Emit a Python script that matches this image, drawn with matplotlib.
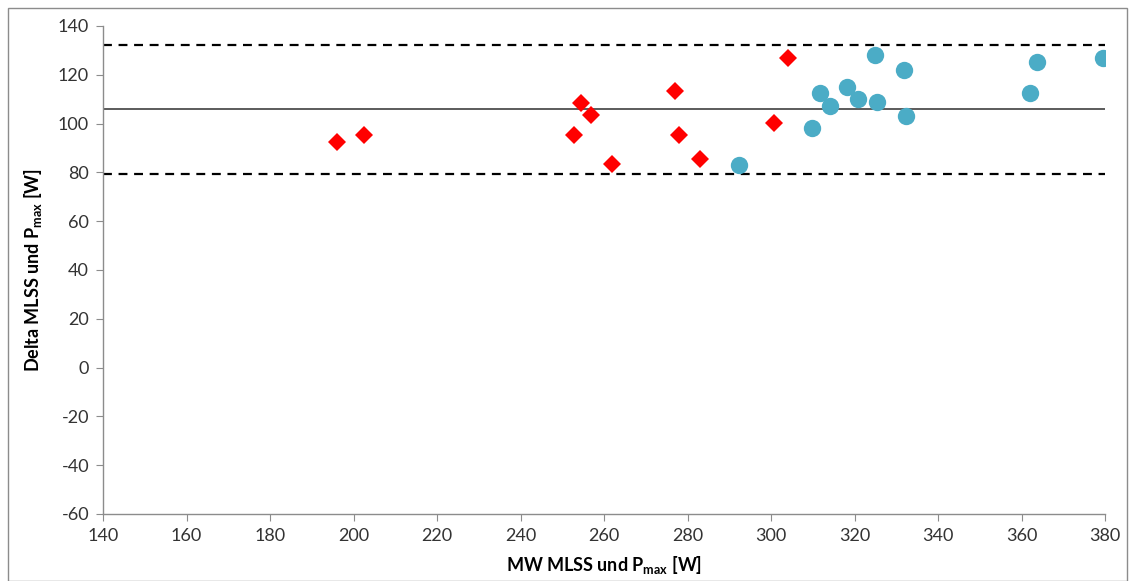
import matplotlib.pyplot as plt
from matplotlib.patches import Rectangle

# Group 1 (red diamonds)
red_x = [196.0, 202.5, 252.8, 254.5, 256.9, 261.9, 277.0, 278.0, 283.0, 300.7, 304.1]
red_y = [92.5, 95.3, 95.3, 108.4, 103.5, 83.4, 113.4, 95.3, 85.5, 100.2, 126.9]

# Group 2 (blue circles)
blue_x = [292.3, 309.8, 311.7, 314.1, 318.2, 320.8, 324.9, 325.4, 331.9, 332.3, 362.0, 363.7, 379.6]
blue_y = [83.0, 98.2, 112.5, 107.2, 115.0, 110.1, 128.1, 108.9, 122.0, 103.1, 112.5, 125.2, 126.9]

# Mean difference and limits of agreement
mean_diff = 105.9
upper_loa = 132.3
lower_loa = 79.4

plt.rcParams['font.family'] = ['Lato', 'DejaVu Sans']
plt.rcParams['axes.unicode_minus'] = False

fig = plt.figure(figsize=(11.32, 5.81), dpi=100)
fig.patches.append(Rectangle((8 / 1132, 0), 1119 / 1132, 573 / 581,
                             transform=fig.transFigure, fill=False,
                             edgecolor='#8c8c8c', linewidth=1.0))
ax = fig.add_axes([103 / 1132, 1 - 514 / 581, 1002 / 1132, 488 / 581])

ax.axhline(mean_diff, color='#404040', linewidth=1.2, zorder=1)
ax.axhline(upper_loa, color='black', linewidth=1.6, linestyle=(0, (4, 3)), zorder=1)
ax.axhline(lower_loa, color='black', linewidth=1.6, linestyle=(0, (4, 3)), zorder=1)

ax.plot(red_x, red_y, linestyle='none', marker='D', markersize=9,
        color='#ff0000', markeredgewidth=0, zorder=3)
ax.plot(blue_x, blue_y, linestyle='none', marker='o', markersize=12.5,
        color='#4bacc6', markeredgewidth=0, zorder=3)

ax.set_xlim(140, 380)
ax.set_ylim(-60, 140)
ax.set_xticks(range(140, 381, 20))
ax.set_yticks(range(-60, 141, 20))

for side in ('top', 'right'):
    ax.spines[side].set_visible(False)
for side in ('left', 'bottom'):
    ax.spines[side].set_color('#8c8c8c')
    ax.spines[side].set_linewidth(1.0)
ax.tick_params(direction='out', length=5, color='#8c8c8c', labelsize=13,
               labelcolor='#333333', pad=5)

ax.set_xlabel('MW MLSS und P$_{\\mathregular{max}}$ [W]', fontsize=13,
              fontweight='bold', labelpad=7)
ax.set_ylabel('Delta MLSS und P$_{\\mathregular{max}}$ [W]', fontsize=13,
              fontweight='bold', labelpad=10)

fig.savefig('out.png', dpi=100)
